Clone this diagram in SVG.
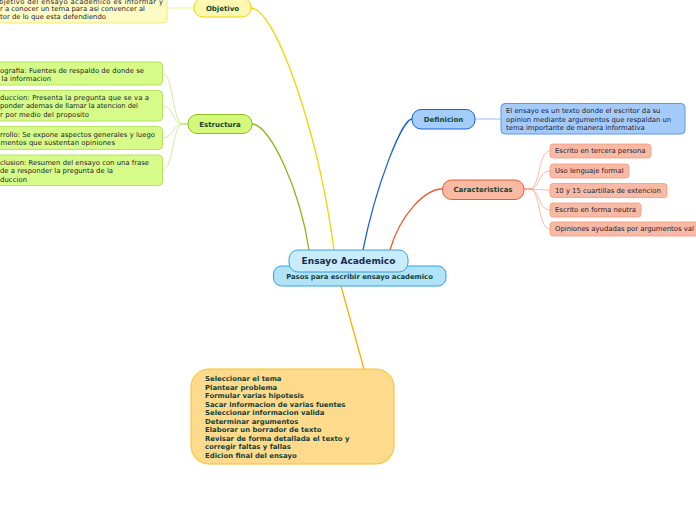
<svg xmlns="http://www.w3.org/2000/svg" width="696" height="520" viewBox="0 0 696 520">
<style>
text{font-family:"DejaVu Sans",Verdana,sans-serif;}
.t{font-size:6.85px;fill:#1c1c2e;}
.b{font-size:6.9px;font-weight:bold;fill:#123f3a;}
.lbl{font-size:7px;font-weight:bold;fill:#134634;text-anchor:middle;}
.c{fill:none;stroke-width:1.3;}
.s{fill:none;stroke-width:0.8;}
</style>
<rect width="696" height="520" fill="#ffffff"/>
<g id="connectors">
<path class="c" stroke="#f2d400" d="M251,8 C275,8 318,130 334,250"/>
<path class="c" stroke="#86b81a" d="M252,124 C270,124 300,190 309,250"/>
<path class="c" stroke="#1a62d6" d="M412,119 C402,119 376,185 363,250"/>
<path class="c" stroke="#f1592a" d="M442,189 C425,189 400,215 390,250"/>
<path class="c" stroke="#f9b000" d="M341,286 L364,369"/>
<path class="s" stroke="#7ba9ec" d="M475,119 L501,119"/>
<path class="s" stroke="#f5e77a" d="M194,8 L167,8"/>
<g stroke="#c4e88a">
<path class="s" d="M188,124 L183,124 C172,124 174,73 162,73"/>
<path class="s" d="M188,124 L183,124 C172,124 174,106 162,106"/>
<path class="s" d="M188,124 L183,124 C172,124 174,138 162,138"/>
<path class="s" d="M188,124 L183,124 C172,124 174,170 162,170"/>
</g>
<g stroke="#f9a98c">
<path class="s" d="M524,189 L530,189 C540,189 538,151 550,151"/>
<path class="s" d="M524,189 L530,189 C540,189 538,171 550,171"/>
<path class="s" d="M524,189 L550,190"/>
<path class="s" d="M524,189 L530,189 C540,189 538,210 550,210"/>
<path class="s" d="M524,189 L530,189 C540,189 538,229 550,229"/>
</g>
</g>
<g id="objetivo-detail">
<rect x="-10" y="-10" width="177" height="33" rx="4" fill="#fffbc4" stroke="#f5e77a" stroke-width="1"/>
<text class="t" x="-1" y="3.5" textLength="164">bjetivo del ensayo academico es informar y</text>
<text class="t" x="0" y="11.3" textLength="145">r a conocer un tema para asi convencer al</text>
<text class="t" x="0" y="19.3" textLength="106">tor de lo que esta defendiendo</text>
</g>
<g id="objetivo">
<rect x="194" y="-2" width="57" height="19" rx="9" fill="#fef7b0" stroke="#f0d400" stroke-width="1"/>
<text class="lbl" x="222.5" y="10.5">Objetivo</text>
</g>
<g id="bibliografia">
<rect x="-10" y="62" width="172.5" height="23" rx="4" fill="#d6fb88" stroke="#b6e25f" stroke-width="1"/>
<text class="t" x="0" y="72.5" textLength="144">ografia: Fuentes de respaldo de donde se</text>
<text class="t" x="1.5" y="80.5" textLength="49.5">la informacion</text>
</g>
<g id="introduccion">
<rect x="-10" y="90.5" width="172.5" height="30.5" rx="4" fill="#d6fb88" stroke="#b6e25f" stroke-width="1"/>
<text class="t" x="0" y="100" textLength="149">duccion: Presenta la pregunta que se va a</text>
<text class="t" x="0" y="108.3" textLength="138">ponder ademas de llamar la atencion del</text>
<text class="t" x="0" y="116.6" textLength="89">r por medio del proposito</text>
</g>
<g id="desarrollo">
<rect x="-10" y="126.5" width="172.5" height="23" rx="4" fill="#d6fb88" stroke="#b6e25f" stroke-width="1"/>
<text class="t" x="0" y="136.6" textLength="155">rrollo: Se expone aspectos generales y luego</text>
<text class="t" x="0.5" y="144.6" textLength="114.5">mentos que sustentan opiniones</text>
</g>
<g id="conclusion">
<rect x="-10" y="155" width="172.5" height="30.5" rx="4" fill="#d6fb88" stroke="#b6e25f" stroke-width="1"/>
<text class="t" x="0" y="164.6" textLength="149">clusion: Resumen del ensayo con una frase</text>
<text class="t" x="0" y="173" textLength="113">de a responder la pregunta de la</text>
<text class="t" x="0" y="181.6" textLength="27">duccion</text>
</g>
<g id="estructura">
<rect x="188" y="114.5" width="64" height="19" rx="9" fill="#d4f77c" stroke="#8ac21a" stroke-width="1"/>
<text class="lbl" x="220" y="126.5">Estructura</text>
</g>
<g id="definicion">
<rect x="412" y="109.5" width="63" height="19.5" rx="9" fill="#a5cdfc" stroke="#1760d6" stroke-width="1"/>
<text class="lbl" x="443.5" y="121.7">Definicion</text>
</g>
<g id="definicion-detail">
<rect x="501" y="103.5" width="184" height="30.5" rx="4" fill="#a5cbfb" stroke="#5d96e9" stroke-width="1"/>
<text class="t" x="506" y="113.3">El ensayo es un texto donde el escritor da su</text>
<text class="t" x="506" y="121.6">opinion mediante argumentos que respaldan un</text>
<text class="t" x="506" y="130">tema importante de manera informativa</text>
</g>
<g id="caracteristicas">
<rect x="442.5" y="180" width="81.5" height="19.5" rx="9" fill="#f9b9a2" stroke="#f1592a" stroke-width="1"/>
<text class="lbl" x="483" y="192.2">Caracteristicas</text>
</g>
<g id="c1"><rect x="550" y="144" width="101" height="14" rx="3" fill="#f9baa5" stroke="#f29a7c" stroke-width="0.8"/><text class="t" x="555" y="153.4">Escrito en tercera persona</text></g>
<g id="c2"><rect x="550" y="164" width="79" height="14" rx="3" fill="#f9baa5" stroke="#f29a7c" stroke-width="0.8"/><text class="t" x="555" y="173.4">Uso lenguaje formal</text></g>
<g id="c3"><rect x="550" y="183.5" width="117" height="14" rx="3" fill="#f9baa5" stroke="#f29a7c" stroke-width="0.8"/><text class="t" x="555" y="192.9">10 y 15 cuartillas de extencion</text></g>
<g id="c4"><rect x="550" y="203" width="91" height="14" rx="3" fill="#f9baa5" stroke="#f29a7c" stroke-width="0.8"/><text class="t" x="555" y="212.4">Escrito en forma neutra</text></g>
<g id="c5"><rect x="550" y="222" width="160" height="14" rx="3" fill="#f9baa5" stroke="#f29a7c" stroke-width="0.8"/><text class="t" x="555" y="231.4">Opiniones ayudadas por argumentos val</text></g>
<g id="pasos">
<rect x="273.5" y="266" width="172.5" height="20" rx="8" fill="#b0e2f8" stroke="#2fa3df" stroke-width="1"/>
<text class="lbl" x="359.5" y="279" style="font-size:6.85px;fill:#133f3e">Pasos para escribir ensayo academico</text>
</g>
<g id="central">
<rect x="289" y="250" width="119" height="22" rx="9" fill="#c9ecfc" stroke="#3a9fe0" stroke-width="1"/>
<text x="348.5" y="264" text-anchor="middle" style="font-size:9px;font-weight:bold;fill:#1b2a4e">Ensayo Academico</text>
</g>
<g id="pasos-lista">
<rect x="191" y="369" width="203" height="95" rx="18" fill="#fedb8c" stroke="#fbbe20" stroke-width="1"/>
<text class="b" x="205" y="381.2">Seleccionar el tema</text>
<text class="b" x="205" y="389.7">Plantear problema</text>
<text class="b" x="205" y="398.2">Formular varias hipotesis</text>
<text class="b" x="205" y="406.7">Sacar informacion de varias fuentes</text>
<text class="b" x="205" y="415.2">Seleccionar informacion valida</text>
<text class="b" x="205" y="423.7">Determinar argumentos</text>
<text class="b" x="205" y="432.2">Elaborar un borrador de texto</text>
<text class="b" x="205" y="440.7">Revisar de forma detallada el texto y</text>
<text class="b" x="205" y="449.2">corregir faltas y fallas</text>
<text class="b" x="205" y="457.7">Edicion final del ensayo</text>
</g>
</svg>
